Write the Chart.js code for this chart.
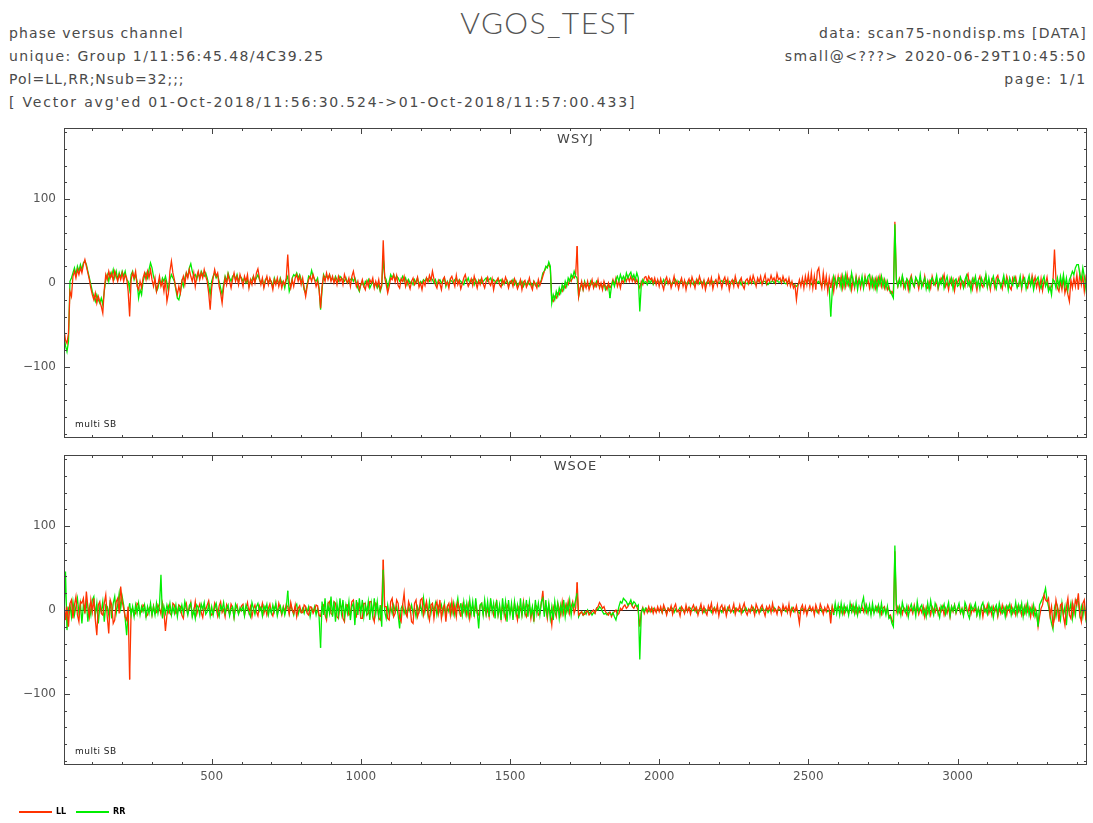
<!DOCTYPE html>
<html>
<head>
<meta charset="utf-8">
<script src="https://cdn.jsdelivr.net/npm/chart.js@4.4.1/dist/chart.umd.min.js"></script>
<style>
  body { margin:0; background:#fff; width:1093px; height:823px; overflow:hidden; position:relative;
         font-family:"DejaVu Sans", sans-serif; color:#4a4a4a; }
  .hd { position:absolute; font-size:14px; letter-spacing:1px; white-space:pre; line-height:16px; }
  .hd.r { text-align:right; right:6px; }
  #title { position:absolute; left:0; width:1096px; top:4px; text-align:center; font-family:Lato, sans-serif;
           font-size:30px; font-weight:300; color:#555; letter-spacing:1.4px; }
  .panel { position:absolute; left:0; width:1093px; }
  .sw { position:absolute; height:2px; top:811px; }
  .lg { position:absolute; top:807px; font-size:8px; font-weight:bold; color:#000; }
</style>
</head>
<body>
<div id="title">VGOS_TEST</div>
<div class="hd" style="left:9px;top:25px;letter-spacing:1.1px">phase versus channel</div>
<div class="hd" style="left:9px;top:48px;letter-spacing:1.4px">unique: Group 1/11:56:45.48/4C39.25</div>
<div class="hd" style="left:9px;top:71px">Pol=LL,RR;Nsub=32;;;</div>
<div class="hd" style="left:9px;top:94px;letter-spacing:1.8px">[ Vector avg'ed 01-Oct-2018/11:56:30.524-&gt;01-Oct-2018/11:57:00.433]</div>
<div class="hd r" style="top:25px;letter-spacing:1.33px">data: scan75-nondisp.ms [DATA]</div>
<div class="hd r" style="top:48px;letter-spacing:1.55px">small@&lt;???&gt; 2020-06-29T10:45:50</div>
<div class="hd r" style="top:71px;letter-spacing:1.8px">page: 1/1</div>

<div class="panel" style="top:120px;height:330px"><canvas id="wsyj" width="1093" height="330"></canvas></div>
<div class="panel" style="top:446px;height:377px"><canvas id="wsoe" width="1093" height="377"></canvas></div>

<div class="sw" style="left:19px;width:33px;background:#ff3300"></div><div class="lg" style="left:56px">LL</div>
<div class="sw" style="left:76px;width:33px;background:#00ee00"></div><div class="lg" style="left:113px">RR</div>

<script>
// channel grid: every 5th channel of the band
const CHANNELS = Array.from({ length: 688 }, (_, i) => 5 + 5 * i);
const X_LABELS = [500, 1000, 1500, 2000, 2500, 3000];
const Y_LABELS = [-100, 0, 100];

// phase (deg), station WSYJ, one line per 100 channels
const WSYJ_LL = [
  -55, -68, -72, -60, -10, -16, 8, 14, 6, 16, 10, 18, 12, 22, 28, 20, 12, 4, -6, -14,
  -20, -12, -24, -16, -22, -28, -36, -8, 10, 4, 14, 6, 12, 2, 14, 8, 2, 10, 4, 12,
  2, 10, 6, -10, -40, 4, 12, 6, 14, -4, -8, 2, -6, 6, 12, 4, 14, 6, 16, 4,
  -4, 6, -10, -2, 8, -4, 2, -10, 4, -22, -12, 14, 26, 12, 4, -6, -14, -4, -12, 2,
  8, -2, 12, 6, 16, 8, 2, 12, -4, 8, 14, 4, 12, 6, 16, 8, 2, -12, -32, -6,
  6, 16, 8, 12, -4, -12, -24, -6, 6, -2, 10, 2, -6, 4, 12, 2, 8, -2, 10, 4,
  -4, 8, 2, 10, -6, 4, -2, 8, 0, 12, 17, 6, -2, 6, -6, 2, 8, -2, 6, 0,
  -8, 4, -2, 6, -4, 4, -6, 2, -2, 6, 34, 2, -6, 4, -4, 6, 10, 2, 8, -2,
  6, -6, -16, -4, 4, 8, 2, 10, 4, -4, 2, -8, -30, -4, 8, 2, 12, 4, 10, 2,
  8, 0, 6, -2, 8, 2, 6, -2, 10, 4, 0, 6, -4, 8, 14, 4, -4, 2, -8, -2,
  4, -4, -8, 2, -4, 4, 0, 6, -6, 2, -4, 4, -8, -2, 51, 6, -2, -12, -4, 6,
  4, 10, 1, 9, -3, -6, 5, 2, 8, -4, 3, -1, -7, 2, 6, -2, 1, 7, -5, 0,
  -8, 2, -3, 6, 1, 9, 3, 14, 5, -2, -6, 3, -1, -8, 4, 7, -2, 1, -6, 5,
  8, 2, -4, 9, -2, 3, -7, -1, 6, 10, 2, -4, 0, 5, -3, 8, 1, -6, 3, -2,
  6, -1, -6, 2, 7, 0, -3, 5, -8, 1, 3, 6, -2, -5, 4, -1, 7, 2, -6, 1,
  3, -4, 5, 0, -7, -2, 4, -8, 1, 3, -5, -1, 6, -3, -8, 2, -1, -6, 4, -3,
  2, 8, 14, 18, 20, 22, 18, -20, -22, -16, -18, -12, -14, -8, -10, -4, -6, 0, -2, 4,
  2, 8, 6, 10, 44, -16, -6, 2, -8, 0, -6, 2, -8, -2, 4, -6, 0, -4, 4, -6,
  0, -8, 2, -4, -8, 0, -6, -2, 4, -2, 6, -4, 2, -6, 4, 0, 6, 2, 8, 2,
  8, 2, 6, 0, 4, -2, -6, 2, -2, 6, 8, 2, 8, 4, 6, 0, 6, -2, 4, -4,
  5, -2, -8, 3, 7, -1, 4, -6, 0, 8, -3, 2, -7, 1, 6, -4, 3, -8, 1, 5,
  -3, 7, 1, -6, 4, -1, 8, 2, -5, 3, -8, 0, 5, -2, 6, -7, 1, 4, -3, 9,
  2, -6, 3, 7, -2, 5, -8, 1, 4, -4, 8, 0, -5, 2, 6, -3, -7, 3, 5, -1,
  7, 0, 9, 3, -4, 6, 1, 8, -2, 4, 10, -1, 5, 2, 9, 3, 6, 0, 11, 4,
  6, 0, 8, 2, 5, -2, 6, -4, 2, -6, -2, -20, -4, 4, -4, 6, -6, 8, -2, 10,
  -4, 12, -6, 8, -8, 14, 18, 2, -6, 12, -4, 8, -10, 6, -6, 4, -10, 6, -4, 8,
  -2, 8, -6, 6, -4, 10, -2, 6, -8, 4, -6, 8, -2, 6, -6, 4, -4, 8, -2, 4,
  -6, 6, -4, 4, -6, 6, -2, 8, -4, 4, -6, 2, -8, -4, -12, -10, -14, 73, 4, -4,
  5, -2, 7, -6, 0, 4, -8, 3, 9, -1, -5, 6, 2, -7, 4, 1, -3, 8, -4, -6,
  2, -6, 8, 1, -3, 5, -7, 0, 6, 3, 10, -4, 1, -8, 5, -2, 4, -9, 3, 0,
  6, -5, 3, 1, -4, 7, 11, -3, 2, -7, 5, 0, -9, 3, 8, -2, -5, 4, 9, -4,
  2, -8, 5, 3, -6, 6, 9, -1, 0, -7, 4, -3, 8, 1, -5, -8, 6, 2, 7, -3,
  -4, 5, -7, 8, 1, -3, -6, 4, -2, 9, 0, 7, -5, 3, -8, 5, -9, 2, -1, 7,
  -6, -8, -4, 2, 40, 4, -6, -10, 2, -8, 6, -12, -4, -14, -22, 4, -6, 6, -4, 10,
  -8, 12, -2, 8, -10, 6, -4, 2
];
const WSYJ_RR = [
  -62, -75, -82, -70, 2, 6, 12, 18, 10, 20, 14, 22, 16, 24, 26, 22, 14, 6, -2, -10,
  -16, -22, -14, -20, -24, -18, -26, -10, 4, 10, 2, 12, 8, 16, 6, 14, 4, 12, 6, 14,
  8, 14, 4, 2, -8, 10, 14, 4, 10, 2, -18, -8, -14, 2, 8, 12, 6, 16, 24, 18,
  8, 2, -10, -6, 4, -2, 6, 2, 8, 0, -10, 4, 10, 6, 2, -8, -18, -20, -12, 2,
  -4, 6, 12, 8, 18, 23, 14, 8, 10, 4, 12, 6, 14, 10, 8, 12, 6, -2, -14, 2,
  8, 12, 6, 10, 2, -6, -14, -2, 8, 2, 12, 6, 2, 8, 10, 4, 10, 2, 8, 6,
  2, 6, 0, 4, -4, 2, 4, 8, 2, 6, 10, 4, 0, 4, -4, 4, 6, 0, 4, 2,
  -4, 6, 0, 4, -2, 6, 0, 2, -6, 4, 8, -10, -4, 6, 10, 8, 12, 6, 10, 4,
  2, -8, -12, -2, 8, 6, 15, 8, 4, 2, 6, -6, -32, -8, 10, 6, 8, 6, 10, 4,
  6, 2, 8, 4, 2, 8, 6, 4, 2, 6, 0, 2, 4, 6, 2, 6, 0, -6, -10, -2,
  0, -4, 2, 0, 4, -6, -2, 2, -4, 0, -6, -2, -10, -4, 30, 8, 4, -6, 2, 10,
  6, 10, 4, 8, 6, 2, 4, 8, 2, 6, -2, 4, 0, 2, -2, 4, 0, 6, -2, 2,
  0, 4, 2, 6, 4, 2, 6, 4, 0, 4, -2, 2, 4, 0, 2, 6, -4, 2, -2, 4,
  2, 0, 4, 6, 0, 4, 2, 0, -2, 4, 2, 6, 0, 2, 4, -2, 4, 0, 2, 4,
  0, 2, 4, 6, 2, 4, 6, 0, 4, 2, 0, 5, 2, 4, -2, 2, 0, 3, -2, 2,
  0, 4, -2, 2, -3, 0, -2, 2, -4, 0, -2, 2, -2, 0, -4, 2, -3, 0, -4, -1,
  4, 12, 14, 20, 18, 25, 20, -24, -14, -20, -10, -16, -6, -12, -2, -8, 2, -4, 6, 2,
  10, 6, 14, 8, 6, -16, -6, -2, -8, 2, -4, -2, -6, 2, -2, 0, -4, 2, -2, -4,
  -2, -6, 0, -8, -4, -2, -18, -4, 2, -4, 4, 8, 2, 10, 4, 8, 2, 12, 6, 10,
  13, 6, 10, 4, 12, 6, -34, -2, 4, 0, 2, -2, 3, 0, 4, -2, 2, 0, 3, 0,
  2, 0, 4, -2, 2, 0, 3, -2, 1, 0, 4, -1, 2, 0, 3, -2, 2, 0, -2, 2,
  3, 0, -2, 2, 0, 4, -1, 2, 0, 3, -2, 1, 0, 2, -1, 2, 0, 3, -1, 1,
  1, 3, 0, 2, 3, -1, 2, 0, -1, 3, 2, 0, 0, 3, -2, 1, 1, 0, -1, 2,
  0, 2, 2, -1, -1, 3, 3, 0, 0, 2, 2, -2, -2, 1, 1, 3, 0, 2, 3, 1,
  1, 3, 3, 0, -1, 2, 2, 0, 0, -2, -3, -4, -2, 0, 0, 2, 2, -1, 0, 3,
  3, -2, -2, 2, 4, 0, 2, -1, -3, 2, 2, -2, 0, -6, -40, -10, 8, 2, -4, 6,
  6, -6, 8, -4, 10, -2, 4, -6, 12, 2, -4, 6, -8, 4, -2, 8, -6, 6, 0, 8,
  10, -4, 6, -6, 4, -8, 6, -2, 8, -4, 4, -6, 2, -8, -10, -14, -18, 70, 4, -4,
  4, -3, 9, 1, -6, 5, 2, -8, 6, 0, -4, 7, 3, -2, 10, -5, 1, 6, -7, 2,
  -8, 3, 6, -2, 1, 9, -5, 4, -1, 7, -6, 2, 8, -3, 0, 6, -7, 3, 5, -4,
  -2, 7, 1, -6, 4, 9, -3, 2, -9, 5, 0, 8, -4, 3, -7, 6, 1, -3, 10, -5,
  6, -4, 2, 8, -1, -7, 5, 3, -5, 1, 9, -2, 4, -8, 6, 0, -3, 7, 2, -6,
  -1, 8, -5, 3, 6, -7, 2, 9, -3, 5, -8, 1, 4, 7, -2, -6, 3, 8, -4, 1,
  -10, -4, -14, 4, 2, -6, 6, -4, 8, -2, 10, -4, 6, -8, 4, 8, 14, 10, 18, 22,
  22, 10, 4, 18, 8, -6, -20, -16
];

// phase (deg), station WSOE
const WSOE_LL = [
  10, -12, 4, -20, 8, 12, -10, 6, 16, -6, -14, 10, 8, 14, -4, 22, 4, -8, 12, -2,
  14, -12, -30, 6, 10, -4, -6, 8, 18, -8, -28, 12, 6, -16, -12, 10, 14, -4, 28, 10,
  2, -8, -12, 4, -83, 0, 2, -6, -4, 8, 6, -4, -2, 6, 4, -8, -6, 2, 4, -6,
  5, -4, -3, 6, 2, -5, 8, -2, -25, -6, 4, -4, -6, 8, 6, -4, -2, 6, 4, -6,
  -10, 3, 8, -4, 1, 9, -7, -2, 10, -5, 2, 7, -3, -9, 4, 0, 6, 11, -2, -6,
  -4, 8, 2, -7, 5, 10, -3, 1, -8, 6, 0, -5, 7, 3, -9, 2, 6, -4, -1, 5,
  7, -6, 2, 9, -3, 4, -8, 1, 6, -2, -7, 5, 0, 8, -4, 3, -6, 2, 7, -3,
  -7, 2, 6, -4, 8, 1, -6, 4, -2, 7, 3, -5, 9, 0, -4, 6, -8, 2, 5, -3,
  -3, 6, 4, -4, -6, 4, 3, -4, 0, 6, 5, -6, -8, 4, 6, -6, -12, 8, 10, -4,
  -6, 10, 8, -8, -10, 6, 4, -10, -14, 6, 6, -6, -4, 10, 12, -6, -8, 8, 6, -10,
  -10, 8, 8, -6, -4, 10, 10, -8, -14, 8, 6, -10, -12, 6, 60, 4, 4, -10, -12, 10,
  14, -8, -4, 12, 8, -10, -14, 6, 20, -4, -8, 10, 4, -14, -16, 8, 12, -8, -2, 12,
  14, -6, 2, 10, -4, -12, 6, 8, -10, 4, 10, -4, 12, -10, 2, 6, -14, 4, 8, -6,
  10, -4, 6, -8, 8, 2, -8, 6, -2, 4, -6, 6, -10, 2, 4, -6, 8, -4, -6, 6,
  8, -4, 6, -6, 2, -8, 10, 2, -6, 4, 10, -6, 4, -10, 6, -2, -10, 6, 2, -4,
  4, -6, 8, -2, -12, 4, 2, -6, 10, -4, -8, 6, 4, -10, 2, -14, 6, 4, -6, -4,
  8, 23, -2, 2, -10, 6, -4, -18, 4, -2, -8, 8, 2, -6, 10, -4, 6, -2, 10, -4,
  4, 10, -4, 2, 33, -6, -4, -2, -6, -5, -2, -1, -6, -4, -2, 0, -4, 2, 4, 9,
  6, 2, 4, -2, -4, -6, -2, -8, -4, -2, 0, -6, -4, 2, 0, 4, 6, 2, 4, 8,
  8, 4, 2, 6, 4, -2, -20, -2, 3, -4, 2, -3, 4, -2, 3, -4, 2, -3, 4, -2,
  4, -3, 6, 1, -6, 2, -1, 5, -5, 3, 7, -2, 0, -7, 4, 1, -4, 6, -2, 3,
  -5, 2, 6, -1, 3, -6, 1, 7, -3, 4, -2, -6, 5, 0, 8, -4, 2, -3, 6, -7,
  3, 6, -2, 4, -7, 1, 5, -3, 0, 7, -5, 2, -1, 6, -4, 3, 8, -2, -6, 1,
  -3, 5, 1, -6, 7, 2, -4, 3, 6, -1, -7, 4, 0, 5, -3, 8, -2, 1, -5, 4,
  2, -5, 6, 0, 4, -3, 7, -6, 1, 3, -2, 5, -4, -16, 2, 6, -3, 4, -6, 1,
  5, -1, 3, -6, 6, 0, -4, 7, 2, -5, 3, -2, 6, 1, -16, 4, -3, 5, -1, 3,
  4, -3, 2, -5, 3, 0, -4, 2, 6, -2, 3, -4, 2, -3, 0, 4, -2, 6, -3, 2,
  3, -4, 2, -3, 0, 4, -2, 3, -5, 2, 4, -3, 2, -8, -6, -12, -16, 70, -2, 4,
  -3, 2, -5, 3, 0, -6, 4, -2, 2, -4, 6, -2, 3, -5, 2, -3, 4, -8, 3, -4,
  2, -6, 4, 0, -3, 5, -5, 2, -2, 4, -6, 2, -4, 3, -8, 4, -2, 6, -4, 2,
  3, -4, 2, -6, 4, 0, -3, 5, -5, 2, -2, 4, -6, 2, -4, 3, -8, 4, -2, 6,
  -4, 2, -6, 4, -2, 3, -8, 2, -4, 6, -2, 3, -6, 4, -2, 5, -4, 2, -6, 4,
  -2, 4, -6, 2, -4, 6, -2, 3, -8, 4, -6, 2, -4, -20, -8, 2, 6, 18, 12, 10,
  14, -6, 4, -18, -10, 12, 2, -14, 6, 8, -8, -18, 4, 14, -6, -10, 8, -4, 12, 6,
  20, -6, -14, 8, 12, -10, -6, 4
];
const WSOE_RR = [
  -8, 46, -24, 2, 6, -8, 10, -6, 4, 14, -4, 8, -16, 6, -2, 10, -14, 4, -6, 12,
  16, -6, 8, -16, 4, -2, 10, -14, 6, 4, -6, 12, -10, 8, 16, -4, 6, 20, 2, 16,
  6, -10, -30, -4, 8, -6, 4, -8, 6, -4, 8, -6, 4, -2, 6, -8, 4, -4, 8, -6,
  4, -6, 8, -4, 6, 42, -10, 4, -4, 6, -2, 8, -6, 4, -4, 6, -8, 4, -2, 6,
  -4, 10, 2, -6, 5, 8, -8, 0, -10, 6, 3, -6, 7, 1, 9, -5, -2, 6, -7, 4,
  -6, 3, 8, -2, -8, 5, 0, 9, -4, 2, 6, -7, 1, 4, -9, 7, 2, -5, 3, -1,
  4, -7, 6, 1, -3, -8, 9, 2, -5, 4, 8, -1, 3, -7, 5, 0, 7, -6, 2, -4,
  6, -2, 8, -7, 1, 5, -4, 3, -6, 2, 23, -3, 6, 0, -6, 4, 7, -5, 1, -3,
  2, -4, 3, -2, 4, -8, 2, -2, 4, -6, 2, -8, -45, 10, -6, 14, -10, 6, -4, 16,
  -8, 10, -14, 8, -6, 14, -4, 12, -8, 6, -4, 10, -12, 4, 8, -18, 12, -6, 14, -4,
  12, -8, 6, -4, 10, -12, 8, -6, 14, -4, 10, -8, 6, -20, 48, -2, -10, 6, -6, 4,
  -4, 6, -2, 4, -6, -22, 2, 6, -4, 2, -6, 4, -2, 6, -4, 2, -8, 4, -2, 6,
  -4, 14, -2, 8, -6, 10, -4, 6, -2, 8, -6, 4, -2, 6, -4, 8, -6, 4, -2, 6,
  -4, 8, -6, 4, 14, -2, 8, -6, 10, -4, 8, -6, 12, -4, 10, -8, 14, -2, -22, 6,
  8, -6, 12, -4, 10, -8, 14, -2, 8, -10, 12, -6, 6, -12, 14, -4, 10, -14, 12, -6,
  8, -12, 10, -4, 6, -10, 14, -6, 8, -4, 12, -8, 10, -6, 4, -10, 12, -4, 8, -6,
  10, 14, -8, 12, -6, 8, -10, 4, -12, 10, -4, 8, -10, 6, -4, 12, -8, 6, -2, 12,
  -6, 8, 4, 12, 20, -8, -4, -2, -6, -2, -5, 0, -4, -2, -6, -3, -4, 2, 0, 4,
  2, -2, -5, -4, -6, -3, -4, -6, -3, -8, -12, -4, 4, 10, 8, 14, 12, 10, 6, 8,
  12, 6, 10, 8, 4, 6, -59, -4, 2, -2, 3, 0, -2, 1, -2, 2, 0, -2, 1, 0,
  1, -3, 3, 0, -4, 2, -1, 3, 2, -3, 1, -2, 0, 3, -1, 0, -3, 2, -1, 3,
  2, -1, 0, 3, -3, 0, -1, 3, 0, -3, 1, -1, 0, 2, -3, 0, 3, -1, 0, -3,
  0, -3, 2, 0, -2, 3, -1, -1, 0, -3, 2, -1, 0, -2, 1, -3, 0, 3, -1, 0,
  1, -1, 3, 0, -3, 1, 0, -2, 3, -1, 0, 2, -3, 0, 1, -1, 3, 0, -2, 1,
  0, -3, 2, 0, -2, 1, 0, -1, 3, -2, 0, 1, -2, -4, 0, 2, -1, 0, -3, 1,
  2, -1, 0, -2, 1, -3, 0, 2, -2, 0, 1, -1, -2, 0, -6, 4, -6, 8, -4, 6,
  -6, 8, -4, 6, -2, 4, -6, 8, -2, 6, -4, 8, -6, 4, -2, 8, 15, -2, 6, -4,
  6, -6, 8, -4, 4, -2, 6, -6, 8, -4, 2, -6, 4, -10, -8, -16, -20, 77, 6, -4,
  4, -6, 9, 1, -3, 5, -8, 2, 7, -1, 4, -7, 10, -2, 3, 6, -5, 1, -8, 8,
  -4, 11, 0, -6, 8, 3, -2, -9, 5, 1, 7, -5, 2, 9, -7, 4, -1, 6, -3, 2,
  8, -3, 1, -7, 9, 4, -5, -10, 6, 0, 3, 8, -6, 2, -8, 5, 9, -2, 1, -5,
  7, -1, 4, -9, 2, 6, -5, 8, 0, -4, 3, -8, 5, 1, 7, -6, 2, -3, 9, -5,
  6, -2, 8, -8, 4, -4, 8, -6, 2, -4, 6, -8, -2, -20, 6, 10, 14, 18, 26, 12,
  4, -6, -16, -23, 2, -8, 4, -4, -12, 8, -6, 4, -18, 6, -2, 8, -10, 4, -6, 12,
  10, -6, 4, -8, 6, -10, 2, -4
];

// which polarisation is drawn on top, from each channel onwards
const WSYJ_TOP = [[5, 'LL'], [1615, 'RR'], [1725, 'LL'], [1835, 'RR'], [1955, 'LL'], [2575, 'RR']];
const WSOE_TOP = [[5, 'LL'], [225, 'RR'], [755, 'LL'], [865, 'RR'], [1075, 'LL'], [1335, 'RR'],
                  [1725, 'LL'], [1835, 'RR'], [1955, 'LL'], [2585, 'RR'], [3285, 'LL']];

const RED = '#ff3300', GREEN = '#00ee00';

function piece (vals, color, from, to) {
  const data = [];
  CHANNELS.forEach((c, i) => { if (c >= from && c <= to) data.push({ x: c, y: vals[i] }); });
  return { data, borderColor: color, borderWidth: 1.3, pointRadius: 0, tension: 0 };
}

function layered (ll, rr, tops) {
  const upper = [], lower = [];
  tops.forEach(([from, pol], k) => {
    const to = k + 1 < tops.length ? tops[k + 1][0] : Infinity;
    upper.push(pol === 'LL' ? piece(ll, RED, from, to) : piece(rr, GREEN, from, to));
    lower.push(pol === 'LL' ? piece(rr, GREEN, from, to) : piece(ll, RED, from, to));
  });
  return upper.concat(lower);   // first dataset is drawn top-most
}

const fmt = v => v < 0 ? '\u2212' + (-v) : String(v);

/* frame, zero line, inward ticks and in-panel labels */
const frame = {
  id: 'frame',
  beforeDatasetsDraw (chart) {
    const { ctx, chartArea: a, scales: { y } } = chart;
    const y0 = Math.round(y.getPixelForValue(0)) + 0.5;
    ctx.save();
    ctx.strokeStyle = '#222'; ctx.lineWidth = 1;
    ctx.beginPath(); ctx.moveTo(a.left, y0); ctx.lineTo(a.right, y0); ctx.stroke();
    ctx.restore();
  },
  afterDatasetsDraw (chart, args, opts) {
    const { ctx, chartArea: a, scales: { x, y } } = chart;
    ctx.save();
    ctx.strokeStyle = '#444'; ctx.lineWidth = 1;
    ctx.strokeRect(a.left + 0.5, a.top + 0.5, a.right - a.left - 1, a.bottom - a.top - 1);
    ctx.beginPath();
    for (let v = 100; v < x.max; v += 100) {
      const px = Math.round(x.getPixelForValue(v)) + 0.5, len = v % 500 ? 3 : 6;
      ctx.moveTo(px, a.bottom); ctx.lineTo(px, a.bottom - len);
      ctx.moveTo(px, a.top); ctx.lineTo(px, a.top + len);
    }
    for (let v = -180; v <= 180; v += 20) {
      const py = Math.round(y.getPixelForValue(v)) + 0.5, len = v % 100 ? 3 : 6;
      ctx.moveTo(a.left, py); ctx.lineTo(a.left + len, py);
      ctx.moveTo(a.right, py); ctx.lineTo(a.right - len, py);
    }
    ctx.stroke();
    ctx.fillStyle = '#444';
    ctx.textBaseline = 'middle';
    ctx.textAlign = 'center';
    ctx.font = '13px "DejaVu Sans"';
    ctx.letterSpacing = '1px';
    ctx.fillText(opts.station, (a.left + a.right) / 2, a.top + 12);
    ctx.textAlign = 'left';
    ctx.font = '9px "DejaVu Sans"';
    ctx.letterSpacing = '0.5px';
    ctx.fillStyle = '#222';
    ctx.fillText('multi SB', a.left + 11, a.bottom - 13);
    ctx.restore();
  }
};

function panel (id, station, ll, rr, tops, showX, topPad, xHeight) {
  new Chart(document.getElementById(id), {
    type: 'line',
    data: { datasets: layered(ll, rr, tops) },
    plugins: [frame],
    options: {
      responsive: false,
      animation: false,
      events: [],
      layout: { autoPadding: false, padding: { top: topPad, right: 6, left: 0, bottom: 0 } },
      plugins: { legend: { display: false }, tooltip: { enabled: false }, frame: { station } },
      scales: {
        x: {
          type: 'linear', min: 5, max: 3434,
          grid: { display: false, drawTicks: false }, border: { display: false },
          afterBuildTicks: s => { s.ticks = X_LABELS.map(v => ({ value: v })); },
          afterFit: s => { s.height = xHeight; s.paddingLeft = 0; s.paddingRight = 0; },
          ticks: { display: showX, padding: 5, color: '#555', maxRotation: 0, callback: v => String(v),
                   font: { size: 12, family: '"DejaVu Sans"' } }
        },
        y: {
          min: -185, max: 185,
          grid: { display: false, drawTicks: false }, border: { display: false },
          afterBuildTicks: s => { s.ticks = Y_LABELS.map(v => ({ value: v })); },
          afterFit: s => { s.width = 64; s.paddingTop = 0; s.paddingBottom = 0; },
          ticks: { padding: 8, color: '#555', callback: fmt,
                   font: { size: 12, family: '"DejaVu Sans"' } }
        }
      }
    }
  });
}

panel('wsyj', 'WSYJ', WSYJ_LL, WSYJ_RR, WSYJ_TOP, false, 8, 12);
panel('wsoe', 'WSOE', WSOE_LL, WSOE_RR, WSOE_TOP, true, 9, 58);
</script>
</body>
</html>
